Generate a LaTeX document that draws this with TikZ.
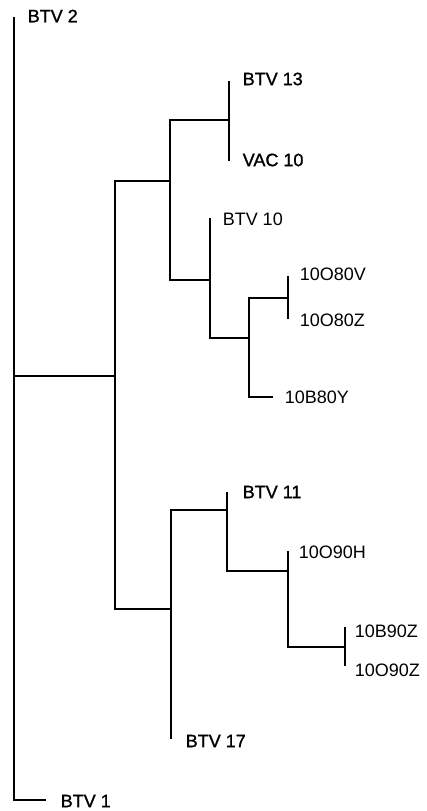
\documentclass[tikz,border=0pt]{standalone}
\usepackage{fontspec}
\setmainfont{Liberation Sans}
\newfontfamily\btvfont[FakeBold=1.2]{Liberation Sans}
\usetikzlibrary{positioning}
\tikzset{
  every picture/.style={x=1pt, y=-1pt, line width=1.5pt, line cap=rect},
  heavy/.style={line width=2pt},
  leaf/.style={inner sep=0pt, anchor=west, font=\fontsize{18}{20}\selectfont},
  btv/.style={leaf, font=\fontsize{18}{20}\selectfont\btvfont},
}

\begin{document}
\begin{tikzpicture}
  \useasboundingbox (0,0) rectangle (427,811);
  % leaf tips
  \coordinate (t2) at (14,18);
  \coordinate (t1) at (45,800);
  \coordinate (t13) at (229,82);
  \coordinate (tv10) at (229,160);
  \coordinate (t10) at (210,219);
  \coordinate (t80v) at (288,277);
  \coordinate (t80z) at (288,318);
  \coordinate (t80y) at (272,397);
  \coordinate (t11) at (227,493);
  \coordinate (t90h) at (288,552);
  \coordinate (t90bz) at (345,628);
  \coordinate (t90oz) at (345,665);
  \coordinate (t17) at (171,738);
  % internal nodes
  \coordinate (r) at (14,376);
  \coordinate (a) at (115,376);
  \coordinate (b) at (170,181);
  \coordinate (c) at (229,120);
  \coordinate (d) at (210,280);
  \coordinate (e) at (249,338);
  \coordinate (f) at (288,298);
  \coordinate (g) at (171,609);
  \coordinate (h) at (227,510);
  \coordinate (i) at (288,571);
  \coordinate (j) at (345,647);

  \node[btv, right=13pt of t2, yshift=2pt] (btv2) {BTV 2};
  \node[btv, right=15pt of t1, yshift=-1pt] (btv1) {BTV 1};
  \node[btv, right=13pt of t13, yshift=3pt] (btv13) {BTV 13};
  \node[btv, right=13pt of tv10] (vac10) {VAC 10};
  \node[leaf, right=12pt of t10] (btv10) {BTV 10};
  \node[leaf, right=11pt of t80v, yshift=3pt] (o80v) {10O80V};
  \node[leaf, right=11pt of t80z, yshift=-2pt] (o80z) {10O80Z};
  \node[leaf, right=12pt of t80y] (b80y) {10B80Y};
  \node[btv, right=15pt of t11, yshift=1pt] (btv11) {BTV 11};
  \node[leaf, right=10pt of t90h] (o90h) {10O90H};
  \node[leaf, right=9pt of t90bz, yshift=-3pt] (b90z) {10B90Z};
  \node[leaf, right=9pt of t90oz, yshift=-5pt] (o90z) {10O90Z};
  \node[btv, right=14pt of t17, yshift=-3pt] (btv17) {BTV 17};

  \draw (t1) -| (t2);
  \draw (r) -- (a);
  \draw (b) -| (a) |- (g);
  \draw[heavy] (c) -| (b) |- (d);
  \draw[heavy] (t13) -- (tv10);
  \draw (t10) |- (e);
  \draw[heavy] (f) -| (e) |- (t80y);
  \draw[heavy] (t80v) -- (t80z);
  \draw (h) -| (g) -- (t17);
  \draw (t11) |- (i);
  \draw (t90h) |- (j);
  \draw (t90bz) -- (t90oz);
\end{tikzpicture}
\end{document}
